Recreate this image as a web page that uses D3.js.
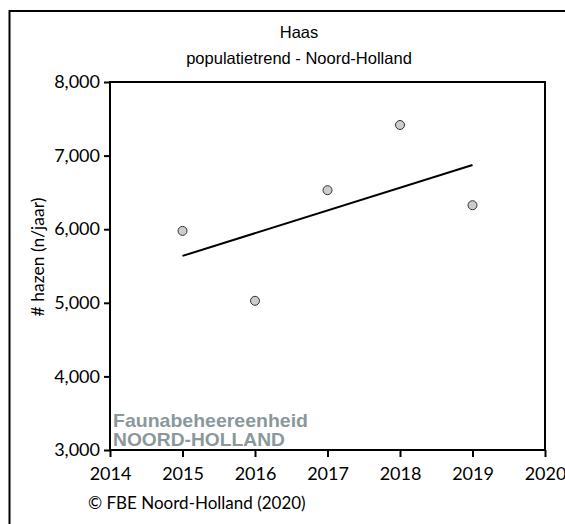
<!DOCTYPE html>
<html>
<head>
<meta charset="utf-8">
<script src="https://cdn.jsdelivr.net/npm/d3@7.9.0/dist/d3.min.js"></script>
<style>
  body { margin: 0; background: #fff; }
  svg { display: block; }
</style>
</head>
<body>
<div id="chart"></div>
<script>
// -------- data --------
const years = [2015, 2016, 2017, 2018, 2019];
const hazen = [5977, 5027, 6530, 7416, 6326];
const trendYears = [2015, 2019];
const trendValues = [5637, 6873];
const xTicks = [2014, 2015, 2016, 2017, 2018, 2019, 2020];
const yTicks = [3000, 4000, 5000, 6000, 7000, 8000];
const titleLines = ['Haas', 'populatietrend - Noord-Holland'];
const yTitle = '# hazen (n/jaar)';
const credit = '\u00A9 FBE Noord-Holland (2020)';
const logoLines = ['Faunabeheereenheid', 'NOORD-HOLLAND'];

const width = 565;
const height = 524;
const plot = { left: 110, right: 545, top: 82, bottom: 450 };
const tickFont = 'Lato, "Open Sans", sans-serif';

const svg = d3.select('#chart')
  .append('svg')
  .attr('width', width)
  .attr('height', height);

// outer frame (runs off the page on right and bottom)
svg.append('rect')
  .attr('x', 9.5).attr('y', 11)
  .attr('width', 700).attr('height', 700)
  .attr('fill', 'none')
  .attr('stroke', '#000')
  .attr('stroke-width', 2);

// title
svg.append('g')
  .selectAll('text')
  .data(titleLines)
  .join('text')
  .attr('x', 299)
  .attr('y', (d, i) => 38 + i * 26)
  .attr('text-anchor', 'middle')
  .attr('font-family', '"Liberation Sans", Arial, sans-serif')
  .attr('font-size', 16.5)
  .text(d => d);

const x = d3.scaleLinear().domain([2014, 2020]).range([plot.left, plot.right]);
const y = d3.scaleLinear().domain([3000, 8000]).range([plot.bottom, plot.top]);

// logo (drawn under the axes)
const logo = svg.append('g').attr('fill', '#8a989c')
  .attr('font-family', '"Liberation Sans Narrow", "Liberation Sans", Arial, sans-serif')
  .attr('font-weight', 'bold');
logo.append('text')
  .attr('x', 113).attr('y', 427)
  .attr('font-size', 19)
  .attr('textLength', 195).attr('lengthAdjust', 'spacingAndGlyphs')
  .text(logoLines[0]);
logo.append('text')
  .attr('x', 113).attr('y', 446)
  .attr('font-size', 19)
  .attr('textLength', 172).attr('lengthAdjust', 'spacingAndGlyphs')
  .text(logoLines[1]);

// plot box
svg.append('rect')
  .attr('x', plot.left).attr('y', plot.top)
  .attr('width', plot.right - plot.left)
  .attr('height', plot.bottom - plot.top)
  .attr('fill', 'none')
  .attr('stroke', '#000')
  .attr('stroke-width', 2);

const yAxis = svg.append('g')
  .attr('transform', `translate(${plot.left},0)`)
  .call(d3.axisLeft(y).tickValues(yTicks).tickFormat(d3.format(',')).tickSize(6).tickPadding(4));

const xAxis = svg.append('g')
  .attr('transform', `translate(0,${plot.bottom})`)
  .call(d3.axisBottom(x).tickValues(xTicks).tickFormat(d3.format('d')).tickSize(7).tickPadding(10));

[xAxis, yAxis].forEach(ax => {
  ax.select('.domain').remove();
  ax.selectAll('line').attr('stroke', '#000').attr('stroke-width', 2);
  ax.selectAll('text')
    .attr('fill', '#000')
    .attr('font-family', tickFont)
    .attr('font-size', 18);
});

// axis title
svg.append('text')
  .attr('transform', `translate(44,257) rotate(-90)`)
  .attr('text-anchor', 'middle')
  .attr('font-family', tickFont)
  .attr('font-size', 17.5)
  .text(yTitle);

// trend line
const trend = trendYears.map((yr, i) => [yr, trendValues[i]]);
svg.append('path')
  .datum(trend)
  .attr('fill', 'none')
  .attr('stroke', '#000')
  .attr('stroke-width', 2)
  .attr('d', d3.line().x(d => x(d[0])).y(d => y(d[1])));

// points
svg.append('g')
  .selectAll('circle')
  .data(years.map((yr, i) => ({ year: yr, value: hazen[i] })))
  .join('circle')
  .attr('cx', d => x(d.year))
  .attr('cy', d => y(d.value))
  .attr('r', 4.5)
  .attr('fill', '#cccccc')
  .attr('stroke', '#333')
  .attr('stroke-width', 1);

// credit
svg.append('text')
  .attr('x', 88).attr('y', 509)
  .attr('font-family', tickFont)
  .attr('font-size', 17)
  .text(credit);
</script>
</body>
</html>
